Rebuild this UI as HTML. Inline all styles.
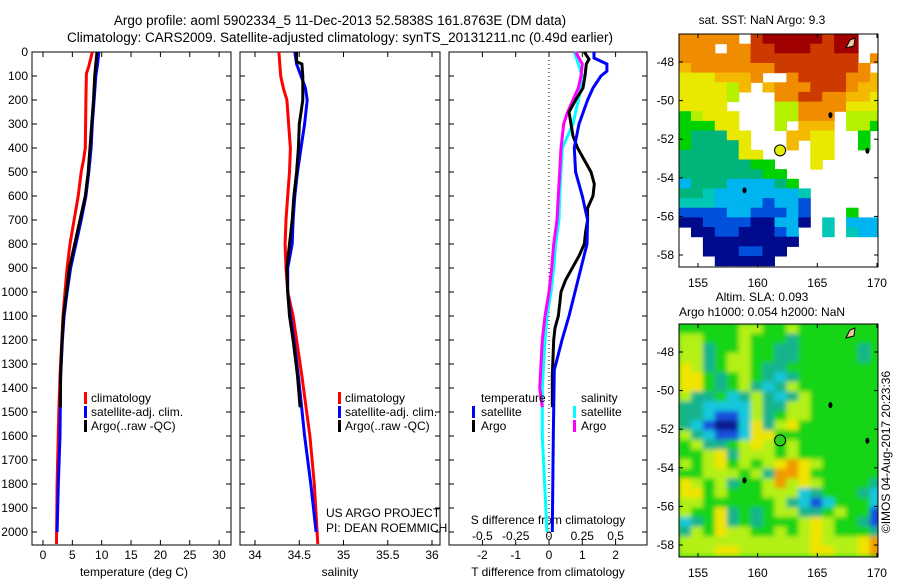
<!DOCTYPE html>
<html><head><meta charset="utf-8">
<style>
html,body{margin:0;padding:0;background:#fff;}
svg{display:block;font-family:"Liberation Sans",sans-serif;}
text{font-size:12px;fill:#000;}
</style></head>
<body>
<svg id="fig" width="900" height="580" viewBox="0 0 900 580" xmlns="http://www.w3.org/2000/svg">
<defs><filter id="smooth" x="-5%" y="-5%" width="110%" height="110%"><feGaussianBlur stdDeviation="2.5"/></filter></defs>
<text x="340" y="25" text-anchor="middle" style="font-size:13.5px">Argo profile: aoml 5902334_5 11-Dec-2013 52.5838S 161.8763E (DM data)</text>
<text x="340" y="42" text-anchor="middle" style="font-size:13.5px">Climatology: CARS2009. Satellite-adjusted climatology: synTS_20131211.nc (0.49d earlier)</text>
<g id="plots"></g>
</svg>
<script>
// ---------- data ----------
const depthTicks=[0,100,200,300,400,500,600,700,800,900,1000,1100,1200,1300,1400,1500,1600,1700,1800,1900,2000];
const tempTicks=[0,5,10,15,20,25,30];
const salTicks=[34,34.5,35,35.5,36];
const tdiffTicks=[-2,-1,0,1,2];
const sdiffTicks=[-0.5,-0.25,0,0.25,0.5];
const sdiffTickLabels=["-0.5","-0.25","0","0.25","0.5"];

const tClimDepth=[0,30,60,90,200,400,450,500,600,700,800,900,1000,1100,1200,1350,1500,1800,2050];
const tClimVal=[8.4,8.1,7.8,7.4,7.3,7.2,6.9,6.5,6.0,5.3,4.6,4.1,3.75,3.4,3.2,2.9,2.7,2.4,2.3];
const tSatDepth=[0,50,100,200,300,400,500,600,700,800,900,1000,1100,1200,1350,1600,1800,2000];
const tSatVal=[9.5,9.3,9.0,8.7,8.4,8.2,7.8,7.3,6.5,5.6,4.7,4.1,3.6,3.3,3.0,2.9,2.6,2.4];
const tArgoDepth=[0,50,100,200,300,400,500,600,700,800,900,1000,1100,1200,1350,1480];
const tArgoVal=[9.2,9.0,8.8,8.6,8.3,8.0,7.7,7.2,6.3,5.4,4.5,4.0,3.5,3.25,3.0,2.95];

const sClimDepth=[0,100,150,200,300,400,500,600,700,800,900,1000,1100,1200,1350,1600,1800,2050];
const sClimVal=[34.27,34.29,34.32,34.36,34.38,34.4,34.39,34.37,34.35,34.34,34.35,34.37,34.43,34.47,34.53,34.62,34.67,34.71];
const sSatDepth=[0,50,100,150,200,300,400,500,600,700,800,900,1000,1100,1200,1350,1600,1800,2000];
const sSatVal=[34.45,34.47,34.52,34.57,34.59,34.56,34.52,34.48,34.45,34.43,34.42,34.37,34.37,34.4,34.44,34.49,34.56,34.63,34.69];
const sArgoDepth=[0,40,50,100,200,300,400,500,600,700,800,900,1000,1100,1200,1350,1480];
const sArgoVal=[34.47,34.47,34.53,34.54,34.54,34.5,34.49,34.47,34.44,34.42,34.39,34.36,34.37,34.39,34.43,34.48,34.51];

const dTSatDepth=[0,25,50,80,100,150,200,300,400,500,600,700,800,900,1000,1100,1200,1325,1600,2000];
const dTSatVal=[1.35,1.35,1.74,1.74,1.56,1.32,1.16,0.9,0.76,0.8,1.0,1.16,1.14,0.96,0.78,0.6,0.39,0.16,0.13,0.1];
const dTArgoDepth=[0,30,50,100,150,200,250,300,350,400,450,500,550,600,650,700,750,800,850,900,950,1000,1050,1100,1150,1200,1350,1480];
const dTArgoVal=[1.06,1.2,1.12,1.08,1.02,0.8,0.6,0.66,0.72,0.86,1.06,1.26,1.36,1.32,1.16,1.16,1.1,1.06,0.9,0.7,0.5,0.36,0.32,0.28,0.18,0.14,0.1,0.1];
const dSSatDepth=[0,50,100,150,200,300,400,500,600,700,800,900,1000,1100,1200,1400,1600,2000];
const dSSatVal=[0.19,0.22,0.25,0.24,0.22,0.18,0.1,0.09,0.08,0.075,0.05,0.035,0.015,-0.015,-0.03,-0.05,-0.05,-0.015];
const dSArgoDepth=[0,50,100,150,200,250,300,400,500,600,700,800,900,1000,1100,1200,1400,1480];
const dSArgoVal=[0.2,0.25,0.24,0.22,0.18,0.14,0.11,0.09,0.08,0.07,0.06,0.035,0.02,0.0,-0.03,-0.05,-0.07,-0.05];

const sstGrid=[
"ooooo.rRRRRRrRR..",
"ooo.oorrRRRrrRR..",
"oooooorrrrrrrrr.o",
"yooooooorrrrrrro.o",
"YYYyyyo..orrrrooy",
"YYYYly.yooorrroyy",
"YYYYl...oorrooyyY",
"YYYY....llooooYYY",
"glYYY...llooo.lll",
"gggYY...l.yyy.llg",
"gGGGYY...yyYY..g.",
"gGGGGY...y.YY..g.",
"GGGGGYY....YY....",
"GGGGGGgg...Y.....",
"GGGGGGGgg........",
"cGGGccccGg.......",
"GGtccccccct......",
"tttccccbccb......",
"bbbbccbbbcb...g..",
"BBbbbbBBccB.t.ccc",
".BBbbBBBbc..t.tcc",
"..BBBBBBBB.......",
"..BBBbbBB........",
"...BBBBB........."];
const slaGrid=[
"gggggllgglggggggg",
"llggglgggtggggggg",
"lltgglggttgggggtg",
"lltgllggttgggggtg",
"Yltgllgttgggggggg",
"YYgtglgtctggggggg",
"YYgtgltctlggggggg",
"lttgctltctlgggggg",
"ttcccclttllgggggg",
"ttcbbcltgllgggggg",
"tcbBBcYtlYggggggg",
"ltcbbcYYggggggggg",
"glttglYlglggggggg",
"gglYtlllglggggggg",
"lglYglglYoYlggggg",
"gglllgltooYgggggg",
"YlgltgglolYlggggt",
"YYglggglllctgggtc",
"llggggggltcbcgggc",
"lggYtgtgllttglggb",
"ctgYtgtggglYlggtb",
"tlgYllgglglYlgggt",
"lllllllllllYlllYo",
"lllYYllllllYYllYo"];
const islandLon=[166.1,169.2,158.9,167.8];
const islandLat=[-50.75,-52.6,-54.65,-47.0];
const argoLon=161.88, argoLat=-52.58;

// ---------- helpers ----------
const NS="http://www.w3.org/2000/svg";
const root=document.getElementById('plots');
function el(tag,attrs,parent){const e=document.createElementNS(NS,tag);for(const k in attrs)e.setAttribute(k,attrs[k]);(parent||root).appendChild(e);return e;}
const yTop=52, yBot=545, pxPerM=0.24;
function yD(d){return yTop+d*pxPerM;}

function panel(x0,x1,name){
  const g=el('g',{});
  
  
  const r=el('rect',{x:x0,y:yTop,width:x1-x0,height:yBot-yTop,fill:'none',stroke:'#000','stroke-width':1},g);
  
  
  for(const d of depthTicks){
    el('line',{x1:x0,x2:x0+5,y1:yD(d),y2:yD(d),stroke:'#000'},g);
    el('line',{x1:x1-5,x2:x1,y1:yD(d),y2:yD(d),stroke:'#000'},g);
  }
  return g;
}
function xTicks(g,ticks,labels,xf,x0,x1,name,labelY,top,bottom){
  ticks.forEach((t,i)=>{const x=xf(t);
    if(top)el('line',{x1:x,x2:x,y1:yTop,y2:yTop+5,stroke:'#000'},g);
    if(bottom)el('line',{x1:x,x2:x,y1:yBot-5,y2:yBot,stroke:'#000'},g);
    const tx=el('text',{x:x,y:labelY,'text-anchor':'middle'},g);tx.textContent=labels[i];
    
    
  });
}
function line(g,depths,vals,xf,color,name){
  const pts=depths.map((d,i)=>xf(vals[i]).toFixed(1)+','+yD(d).toFixed(1)).join(' ');
  const p=el('polyline',{points:pts,fill:'none',stroke:color,'stroke-width':3,'stroke-linejoin':'miter'},g);
  
  
}
function txt(g,x,y,s,name,anchor){const t=el('text',{x:x,y:y,'text-anchor':anchor||'start'},g);t.textContent=s;
  
  
  return t;}
function legBar(g,x,y,color,name){const r=el('rect',{x:x,y:y-10,width:3,height:12,fill:color},g);
  
  }

// depth labels
const dl=el('g',{});


for(const d of depthTicks){txt(dl,28,yD(d)+4,String(d),'depth-tick-label','end');}

// temperature panel
const tx=v=>43+5.87*v;
const gT=panel(32,231,'temperature-panel');
xTicks(gT,tempTicks,tempTicks.map(String),tx,32,231,'temperature',559,true,true);
txt(gT,134,576,'temperature (deg C)','temperature-axis-title','middle');
line(gT,tClimDepth,tClimVal,tx,'#ff0000','temp-climatology-line');
line(gT,tSatDepth,tSatVal,tx,'#0000ff','temp-satellite-line');
line(gT,tArgoDepth,tArgoVal,tx,'#000000','temp-argo-line');
[['#ff0000','climatology'],['#0000ff','satellite-adj. clim.'],['#000000','Argo(..raw -QC)']].forEach((l,i)=>{
  legBar(gT,84,402+i*14,l[0],'temp-legend-swatch');txt(gT,91,402+i*14,l[1],'temp-legend-entry');});

// salinity panel
const sx=v=>255+88.5*(v-34);
const gS=panel(240,440,'salinity-panel');
xTicks(gS,salTicks,salTicks.map(String),sx,240,440,'salinity',559,true,true);
txt(gS,340,576,'salinity','salinity-axis-title','middle');
line(gS,sClimDepth,sClimVal,sx,'#ff0000','sal-climatology-line');
line(gS,sSatDepth,sSatVal,sx,'#0000ff','sal-satellite-line');
line(gS,sArgoDepth,sArgoVal,sx,'#000000','sal-argo-line');
[['#ff0000','climatology'],['#0000ff','satellite-adj. clim.'],['#000000','Argo(..raw -QC)']].forEach((l,i)=>{
  legBar(gS,338,402+i*14,l[0],'sal-legend-swatch');txt(gS,345,402+i*14,l[1],'sal-legend-entry');});
txt(gS,326,517,'US ARGO PROJECT','credit-project');
txt(gS,326,532,'PI: DEAN ROEMMICH','credit-pi');

// difference panel
const dtx=v=>549+33.3*v;
const dsx=v=>549+133.2*v;
const gD=panel(449,647,'difference-panel');
xTicks(gD,tdiffTicks,tdiffTicks.map(String),dtx,449,647,'t-difference',559,true,false);
xTicks(gD,sdiffTicks,sdiffTickLabels,dsx,449,647,'s-difference',540,false,true);
const zl=el('line',{x1:549,x2:549,y1:yTop,y2:yBot,stroke:'#000','stroke-dasharray':'1,3'},gD);


txt(gD,548,576,'T difference from climatology','t-difference-axis-title','middle');
txt(gD,548,524,'S difference from climatology','s-difference-axis-title','middle');
line(gD,dSSatDepth,dSSatVal,dsx,'#00ffff','sdiff-satellite-line');
line(gD,dSArgoDepth,dSArgoVal,dsx,'#ff00ff','sdiff-argo-line');
line(gD,dTArgoDepth,dTArgoVal,dtx,'#000000','tdiff-argo-line');
line(gD,dTSatDepth,dTSatVal,dtx,'#0000ff','tdiff-satellite-line');
txt(gD,481,402,'temperature','diff-legend-temperature-header');
txt(gD,581,402,'salinity','diff-legend-salinity-header');
legBar(gD,472,416,'#0000ff','diff-legend-swatch');txt(gD,481,416,'satellite','diff-legend-t-satellite');
legBar(gD,472,430,'#000000','diff-legend-swatch');txt(gD,481,430,'Argo','diff-legend-t-argo');
legBar(gD,573,416,'#00ffff','diff-legend-swatch');txt(gD,581,416,'satellite','diff-legend-s-satellite');
legBar(gD,573,430,'#ff00ff','diff-legend-swatch');txt(gD,581,430,'Argo','diff-legend-s-argo');

// ---------- maps ----------
const lonX=lon=>698+(lon-155)*11.93;
const sstColors={R:'#a00000',r:'#cc3a00',o:'#f08c00',y:'#f5b800',Y:'#e8e800',l:'#b4f000',g:'#00d200',G:'#00b47a',t:'#00c8b4',c:'#00b4f0',b:'#0050dc',B:'#000a8c'};
const slaColors={g:'#18d418',l:'#b4f014',Y:'#f0e400',o:'#f09a00',t:'#14b48c',c:'#14c8dc',b:'#1450dc',B:'#0a148c'};
function drawMap(top,lat48,grid,colors,name,markFill,smooth){
  const latY=lat=>lat48+(-48-lat)*19.3;
  const g=el('g',{});
  
  
  const cid='clip-'+name;
  const cp=el('clipPath',{id:cid},g);el('rect',{x:679,y:top,width:199,height:233},cp);
  const clipG=el('g',{'clip-path':'url(#'+cid+')'},g);
  if(smooth){el('rect',{x:679,y:top,width:199,height:233,fill:colors.g},clipG);}
  const cells=el('g',smooth?{filter:'url(#smooth)'}:{},clipG);
  
  
  const latTop=-48+(lat48-top)/19.3;
  grid.forEach((row,ri)=>{for(let ci=0;ci<row.length;ci++){const c=colors[row[ci]];if(!c)continue;
    const lon=153.41+ci, lat=latTop-ri*0.5;
    el('rect',{x:lonX(lon).toFixed(1),y:latY(lat).toFixed(1),width:12.5,height:10.2,fill:c},cells);}});
  islandLon.forEach((lo,i)=>{const e=el('ellipse',{cx:lonX(lo),cy:latY(islandLat[i]),rx:2,ry:3,fill:'#000'},g);
    
    });
  const tas=el('path',{d:`M${lonX(167.4)} ${top+14} l4 -8 l5 -2 l-1 8 z`,fill:'#f0c8a0',stroke:'#000'},g);
  
  
  const fr=el('rect',{x:679,y:top,width:199,height:233,fill:'none',stroke:'#000'},g);
  
  
  [155,160,165,170].forEach(lo=>{const x=lonX(lo);
    el('line',{x1:x,x2:x,y1:top,y2:top+4,stroke:'#000'},g);el('line',{x1:x,x2:x,y1:top+233,y2:top+229,stroke:'#000'},g);
    txt(g,x,top+253,String(lo),name+'-lon-label','middle');});
  [-48,-50,-52,-54,-56,-58].forEach(la=>{const y=latY(la);
    el('line',{x1:679,x2:683,y1:y,y2:y,stroke:'#000'},g);el('line',{x1:874,x2:878,y1:y,y2:y,stroke:'#000'},g);
    txt(g,674,y+4,String(la),name+'-lat-label','end');});
  const m=el('circle',{cx:lonX(argoLon),cy:latY(argoLat),r:5.5,fill:markFill,stroke:'#000'},g);
  
  
  return g;
}
const gm1=drawMap(34,62,sstGrid,sstColors,'sst-map','#e0f000',false);
txt(gm1,762,24,'sat. SST: NaN Argo: 9.3','sst-map-title','middle');
const gm2=drawMap(324,352,slaGrid,slaColors,'sla-map','#30d020',true);
txt(gm2,762,301,'Altim. SLA: 0.093','sla-map-title','middle');
txt(gm2,762,316,'Argo h1000: 0.054 h2000: NaN','sla-map-subtitle','middle');
const st=txt(gm2,0,0,'©IMOS 04-Aug-2017 20:23:36','timestamp','middle');
st.setAttribute('transform','translate(890,452) rotate(-90)');
</script>
</body></html>
